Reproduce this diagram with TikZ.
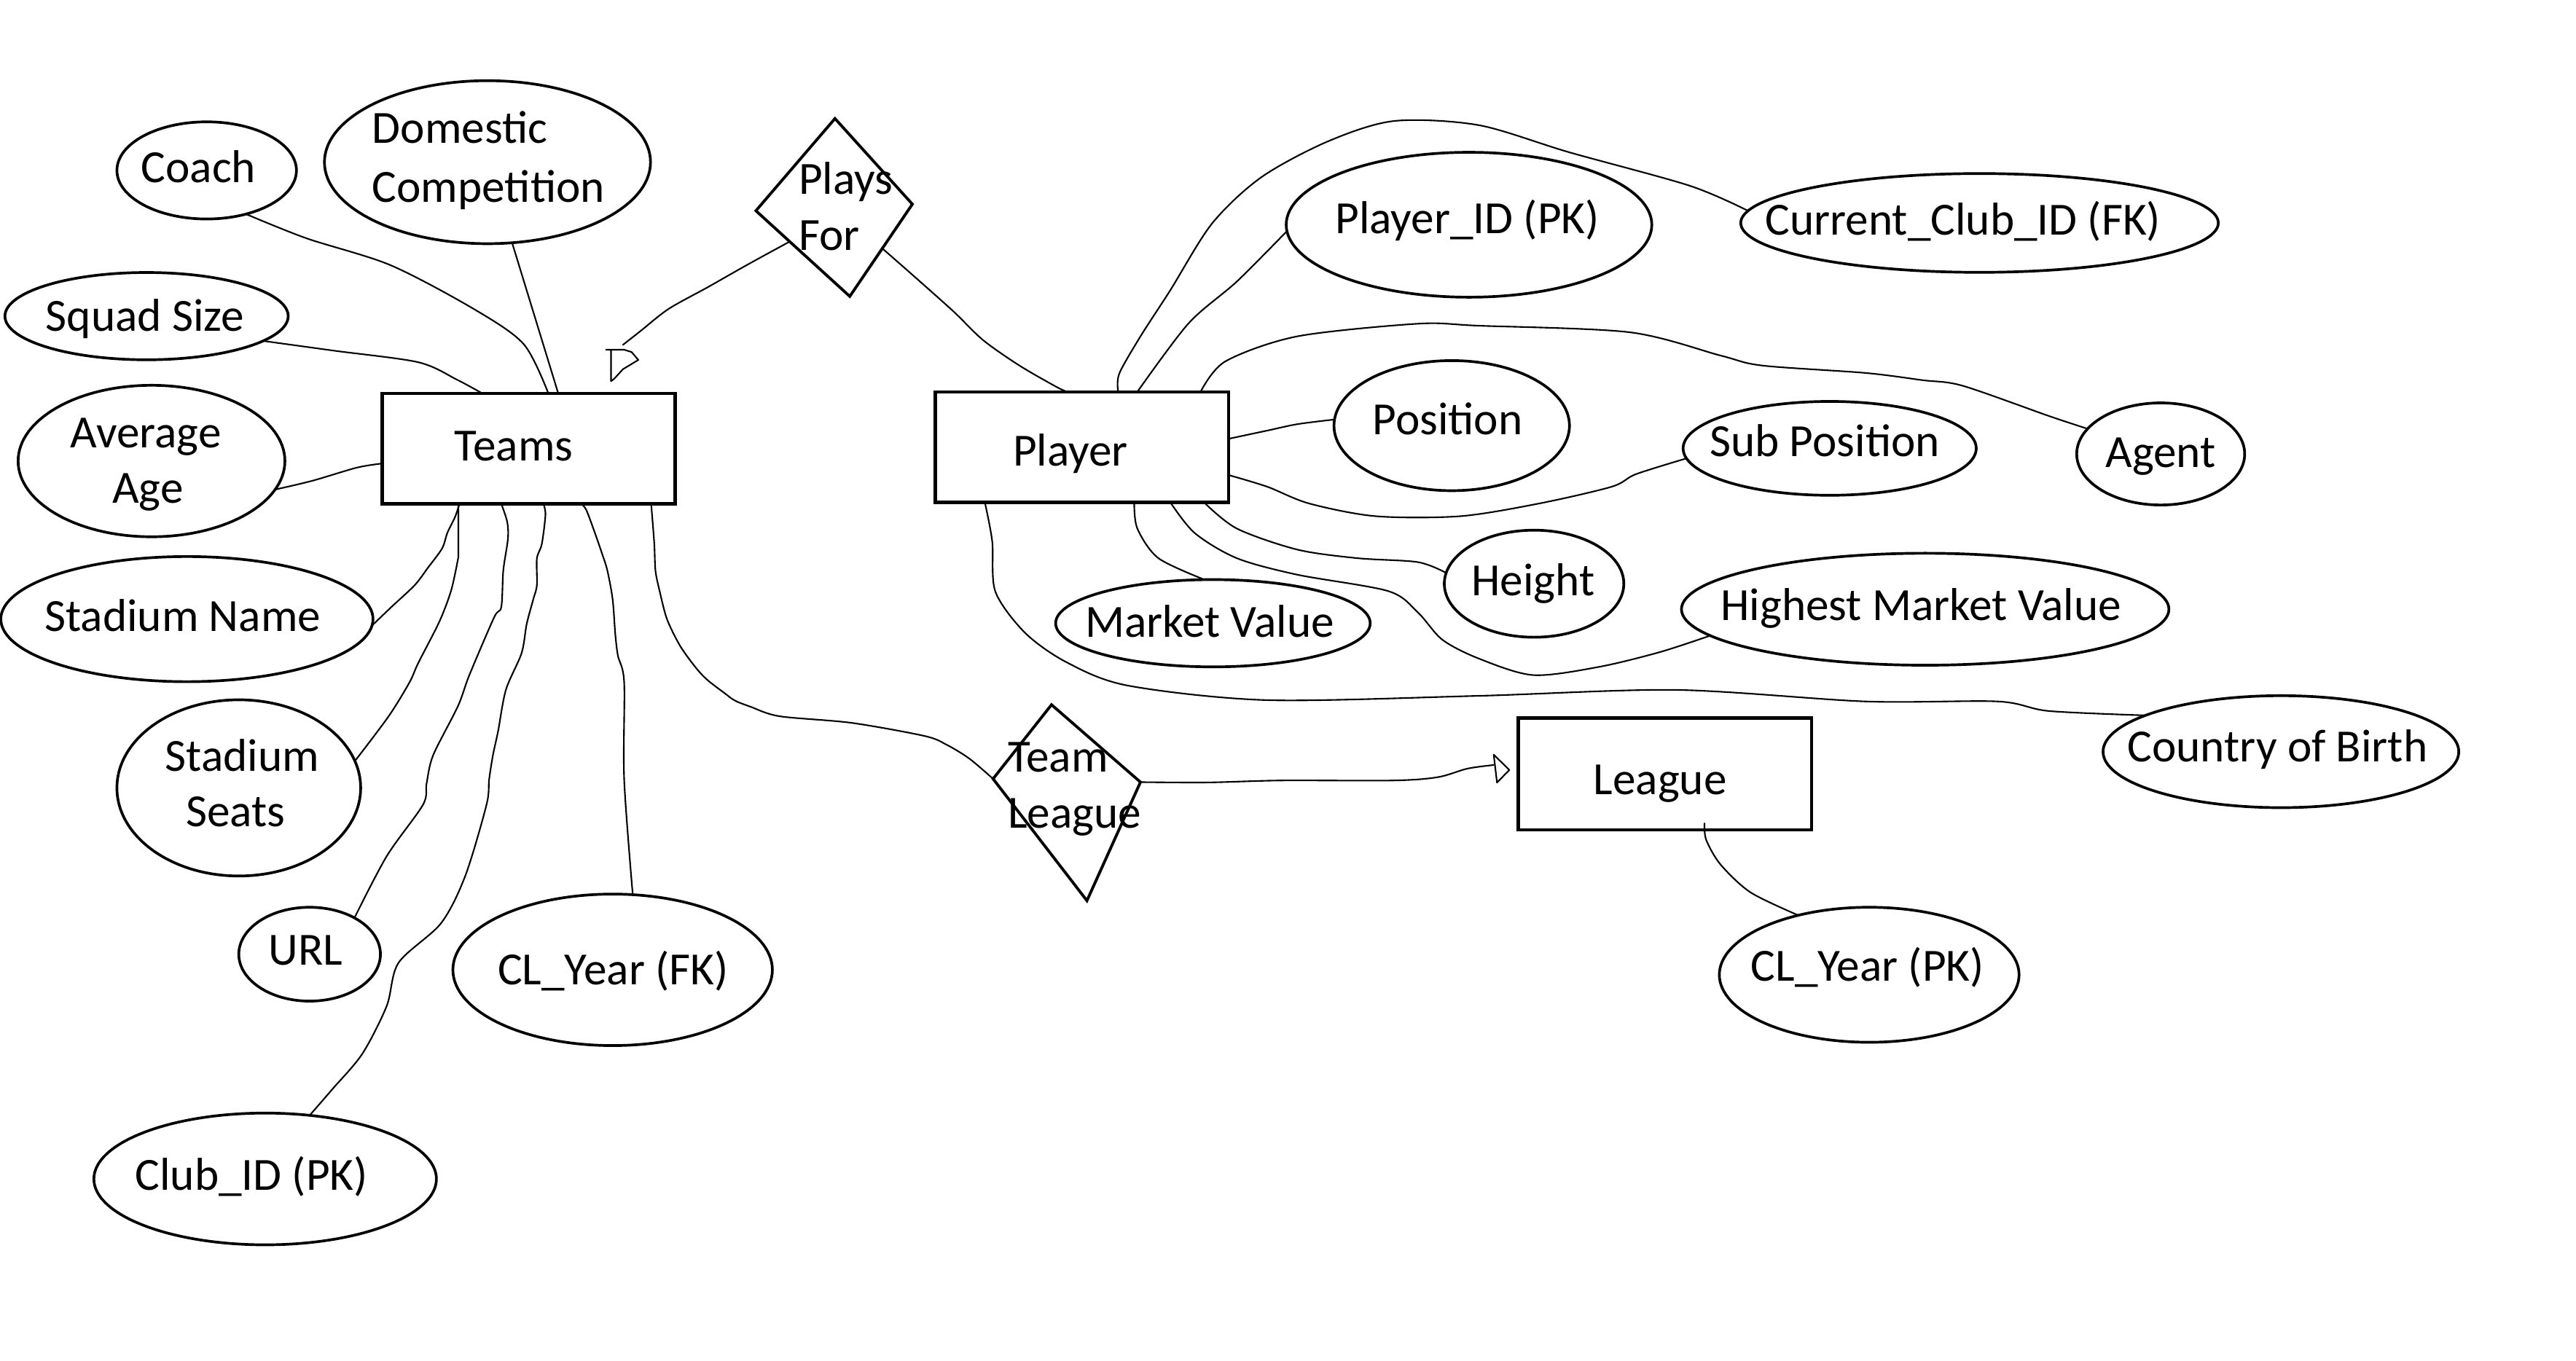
\documentclass[tikz,border=0pt]{standalone}
\usepackage{fontspec}
\setmainfont{Carlito}
\usetikzlibrary{shapes.geometric,calc}
\newdimen\unitD \unitD=0.0226cm
\begin{document}
\begin{tikzpicture}[x=0.0226cm, y=-0.0226cm,
  ell/.style={ellipse, draw, line width=1.05pt, inner sep=0pt, outer sep=0pt},
  ebox/.style={rectangle, draw, line width=1.3pt, inner sep=0pt, outer sep=0pt, minimum width=178\unitD, minimum height=67\unitD},
  txt/.style={inner sep=0pt, outer sep=0pt, font=\fontsize{18pt}{21.6pt}\selectfont},
  conn/.style={line width=0.6pt, line join=round, line cap=round},
  dia/.style={draw, line width=1.1pt, line join=miter}]
\path[use as bounding box, fill=white] (0,0) rectangle (1564.2,826.5);

% entity boxes
\node[ebox] (teams) at (321,272.5) {};
\node[ebox] (player) at (657,271.5) {};
\node[ebox, minimum height=68\unitD] (league) at (1011,470) {};

% relationship diamonds
\coordinate (pfT) at (507,72);
\coordinate (pfR) at (554,124);
\coordinate (pfB) at (516,180);
\coordinate (pfL) at (459,128);
\draw[dia] (pfT) -- (pfR) -- (pfB) -- (pfL) -- cycle;
\coordinate (tlT) at (638.5,428);
\coordinate (tlR) at (692.5,475);
\coordinate (tlB) at (660,547);
\coordinate (tlL) at (603,473);
\draw[dia] (tlT) -- (tlR) -- (tlB) -- (tlL) -- cycle;

% attribute ellipses
\node[ell, minimum width=109\unitD, minimum height=59\unitD] (coach) at (125.5,103.5) {};
\node[ell, minimum width=198\unitD, minimum height=99\unitD] (dom) at (296,98.5) {};
\node[ell, minimum width=172\unitD, minimum height=53\unitD] (squad) at (89,192) {};
\node[ell, minimum width=162\unitD, minimum height=92\unitD] (avg) at (92,280) {};
\node[ell, minimum width=226\unitD, minimum height=76\unitD] (stn) at (113.5,376) {};
\node[ell, minimum width=148\unitD, minimum height=107\unitD] (sts) at (145,478.5) {};
\node[ell, minimum width=86\unitD, minimum height=57\unitD] (url) at (188,579.5) {};
\node[ell, minimum width=194\unitD, minimum height=92\unitD] (clfk) at (372,589) {};
\node[ell, minimum width=208\unitD, minimum height=80\unitD] (club) at (161,716) {};
\node[ell, minimum width=222\unitD, minimum height=88\unitD] (pid) at (892,136.5) {};
\node[ell, minimum width=290\unitD, minimum height=60\unitD] (cc) at (1202,135.4) {};
\node[ell, minimum width=143\unitD, minimum height=79\unitD] (pos) at (881.5,258.5) {};
\node[ell, minimum width=178\unitD, minimum height=57\unitD] (sub) at (1111,272.3) {};
\node[ell, minimum width=102\unitD, minimum height=62\unitD] (agent) at (1312,275.7) {};
\node[ell, minimum width=109\unitD, minimum height=65\unitD] (height) at (931.5,354.5) {};
\node[ell, minimum width=191\unitD, minimum height=53\unitD] (mv) at (736.5,378.5) {};
\node[ell, minimum width=296\unitD, minimum height=68\unitD] (hmv) at (1169,370) {};
\node[ell, minimum width=216\unitD, minimum height=68\unitD] (cob) at (1385,456.5) {};
\node[ell, minimum width=182\unitD, minimum height=82\unitD] (clpk) at (1135,592) {};

% texts
\node[txt, anchor=base] (tTeams) at (312,280) {Teams};
\node[txt, anchor=base] (tPlayer) at (650,283) {Player};
\node[txt, anchor=base] (tLeague) at (1008,482.7) {League};
\node[txt, anchor=base west] (tPlays) at (485,118) {Plays};
\node[txt, anchor=base west] (tFor) at (485,151.9) {For};
\node[txt, anchor=base west] (tTeam) at (612,469) {Team};
\node[txt, anchor=base west] (tLeague2) at (612,503) {League};
\node[txt, anchor=base] (tCoach) at (120.6,111) {Coach};
\node[txt, anchor=base west] (tDom1) at (226,87) {Domestic};
\node[txt, anchor=base west] (tDom2) at (226,123) {Competition};
\node[txt, anchor=base] (tSquad) at (88,201) {Squad Size};
\node[txt, anchor=base] (tAvg1) at (88.6,272) {Average};
\node[txt, anchor=base] (tAvg2) at (89.8,305.7) {Age};
\node[txt, anchor=base] (tStn) at (111,383.5) {Stadium Name};
\node[txt, anchor=base] (tSts1) at (147,468.4) {Stadium};
\node[txt, anchor=base] (tSts2) at (143,502) {Seats};
\node[txt, anchor=base] (tUrl) at (185.6,585.9) {URL};
\node[txt, anchor=base] (tClfk) at (372.3,598) {CL\_Year (FK)};
\node[txt, anchor=base] (tClub) at (152.8,722.6) {Club\_ID (PK)};
\node[txt, anchor=base] (tPid) at (891,141.6) {Player\_ID (PK)};
\node[txt, anchor=base] (tPos) at (879,264) {Position};
\node[txt, anchor=base] (tHeight) at (931,361.8) {Height};
\node[txt, anchor=base] (tMv) at (734.5,387) {Market Value};
\node[txt, anchor=base] (tCc) at (1192,142.6) {Current\_Club\_ID (FK)};
\node[txt, anchor=base] (tSub) at (1108,277.4) {Sub Position};
\node[txt, anchor=base] (tAgent) at (1312,284) {Agent};
\node[txt, anchor=base] (tHmv) at (1166.5,376.8) {Highest Market Value};
\node[txt, anchor=base] (tCob) at (1383,462.8) {Country of Birth};
\node[txt, anchor=base] (tClpk) at (1134,596) {CL\_Year (PK)};

% connectors: Teams
\draw[conn] plot[smooth] coordinates {(coach.-48) (186,144.7) (237,161) (287.6,187.6) (318,209) ([xshift=101\unitD]teams.north west)};
\draw[conn] (dom.-73) -- ([xshift=107\unitD]teams.north west);
\draw[conn] plot[smooth] coordinates {(squad.-12.7) (203,213) (254,220) (277.5,230.6) ([xshift=61\unitD]teams.north west)};
\draw[conn] plot[smooth] coordinates {(avg.-13) (189.6,292) (216.7,284) ([yshift=-9\unitD]teams.west)};
\draw[conn] plot[smooth] coordinates {([xshift=47\unitD]teams.south west) (276.3,314) (271.6,323.7) (268.5,333) (259.7,345) (251.8,355.4) (237.6,368.7) (stn.-2)};
\draw[conn] ([xshift=46.3\unitD]teams.south west) -- (278.3,338.5) -- plot[smooth] coordinates {(278.3,338.5) (274,358.4) (266.8,377.5) (254,402.6) (248.6,414.5) (236,435) (sts.13.5)};
\draw[conn] plot[smooth] coordinates {([xshift=72.4\unitD]teams.south west) (308,317) (308.4,327.4) (305.6,346.5) (304.4,368.6) (300,375) (285,410) (278,429) (263,458.7) (259,476) (256.8,488.8) (234.8,520) (url.39.5)};
\draw[conn] plot[smooth] coordinates {([xshift=98\unitD]teams.south west) (331.2,312.7) (329,330.4) (326,339.2) (326,355.4) (323.8,364) (319.8,379) (316.7,396.7) (307.2,418.9) (302.5,443.8) (299.3,458.7) (297,473.4) (295.4,488.8) (282.5,532) (267.8,560.7) (242,584.7) (234.8,611) (220,640) (201.8,661.5) (club.55)};
\draw[conn] plot[smooth] coordinates {([xshift=121\unitD]teams.south west) (356,309.7) (361,323) (365.6,336.3) (368.8,346.5) (372,364) (373.6,385) (375.2,398.2) (379,414.5) (379,473.4) (clfk.75)};
\draw[conn] plot[smooth] coordinates {([xshift=163.4\unitD]teams.south west) (395.7,309.7) (397.3,330.4) (398,346.5) (400.4,358.4) (405,376) (413,392.3) (422.6,405.6) (429.6,413) (440,421) (446.3,425.5) (455.7,429.2) (473.4,435) (517,439) (561.5,447) (575,452.4) (588.7,460.8) (tlL)};

% Plays For
\coordinate (pfS1) at ($(pfL)!0.36!(pfB)$);
\coordinate (pfS2) at ($(pfR)!0.48!(pfB)$);
\coordinate (pfArr) at (378.3,209.4);
\draw[conn] plot[smooth] coordinates {(pfS1) (453.6,160.9) (430,174.3) (406,187.6) (389,201) (pfArr)};
\draw[conn] (368,212.4) -- (379,212.4) -- (383.5,213.8) -- (387.6,218.6) -- (378.3,224.2) -- (373,230) -- (371,231.5) -- (371,212.4);
\draw[conn] plot[smooth] coordinates {(pfS2) (553,166) (578.8,189) (597,206.6) (619,222) (641,234.7) ([xshift=80\unitD]player.north west)};

% connectors: Player
\draw[conn] plot[smooth] coordinates {([xshift=111\unitD]player.north west) (679.6,227) (692.5,204.3) (710.6,176.3) (736,135.7) (765.8,107.7) (806,86) (846.4,73.5) (897.8,76) (952.9,92.5) (1026,112.8) (cc.177)};
\draw[conn] plot[smooth] coordinates {([xshift=122.6\unitD]player.north west) (721.6,196.5) (751,171) (pid.182)};
\draw[conn] plot[smooth] coordinates {([xshift=161\unitD]player.north west) (744,219.5) (787.6,204.3) (861,196.6) (897.7,197.8) (989.6,201.8) (1045,216) (1070,222) (1132.7,226.5) (1167.5,230.9) (1191.8,234.3) (1244,252.6) (agent.161)};
\draw[conn] plot[smooth] coordinates {([yshift=5\unitD]player.east) (769.5,261.5) (787.8,257.6) (pos.177)};
\draw[conn] plot[smooth] coordinates {([yshift=-17\unitD]player.east) (769.5,295.6) (795,305.8) (835.4,313.5) (886.7,313.5) (934.5,305.8) (978.6,295.6) (993.3,288) (sub.184)};
\draw[conn] plot[smooth] coordinates {([xshift=163\unitD]player.south west) (751,321) (787.8,333.8) (824.3,339) (861,341.4) (height.173)};
\draw[conn] plot[smooth] coordinates {([xshift=142.6\unitD]player.south west) (725.4,323.7) (751,339) (787.6,349) (843,359) (861,372) (875.8,388.5) (897.8,399.9) (931,410) (971,405) (1008,396) (hmv.187)};
\draw[conn] plot[smooth] coordinates {([xshift=120.7\unitD]player.south west) (690.6,321) (703.4,339) (mv.101)};
\draw[conn] plot[smooth] coordinates {([xshift=30\unitD]player.south west) (602.5,328.8) (604.4,359.3) (622.6,384.5) (648,402.4) (685,416.4) (769.5,425.2) (897.8,422.6) (1017.7,419) (1132.7,426) (1213,426) (1244,431.8) (cob.165.5)};

% League
\draw[conn] plot[smooth] coordinates {([xshift=113\unitD,yshift=4\unitD]league.south west) (1036,510) (1044.7,525) (1063,542) (clpk.140)};
\coordinate (lgArr) at (907,464.6);
\draw[conn] plot[smooth] coordinates {(tlR) (733,475.2) (778,474) (846,474) (873,472) (891,466.8) (lgArr)};
\draw[conn] (907,458.3) -- (916.5,467.6) -- (909,475.3) -- cycle;
\end{tikzpicture}
\end{document}
